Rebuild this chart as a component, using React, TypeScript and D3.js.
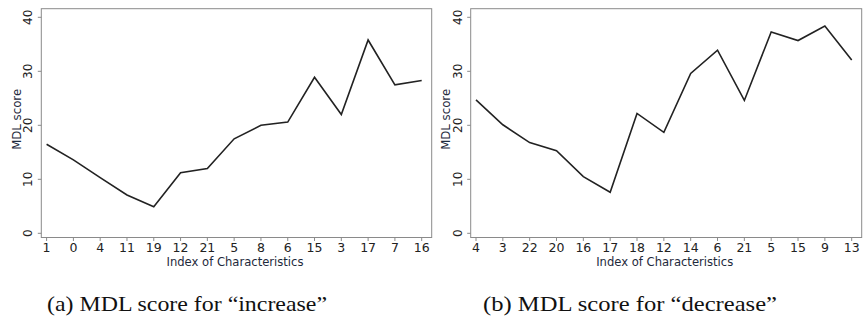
import React from "react";
import * as d3 from "d3";

const incCategories = ["1", "0", "4", "11", "19", "12", "21", "5", "8", "6", "15", "3", "17", "7", "16"];
const incValues = [16.5, 13.6, 10.3, 7.1, 4.9, 11.2, 12.0, 17.5, 20.0, 20.6, 28.9, 22.0, 35.8, 27.5, 28.3];

const decCategories = ["4", "3", "22", "20", "16", "17", "18", "12", "14", "6", "21", "5", "15", "9", "13"];
const decValues = [24.7, 20.1, 16.8, 15.3, 10.5, 7.6, 22.2, 18.7, 29.6, 33.9, 24.6, 37.3, 35.7, 38.4, 32.1];

const yTicks = [0, 10, 20, 30, 40];
const xTitle = "Index of Characteristics";
const yTitle = "MDL score";
const captions = ["(a) MDL score for \u201Cincrease\u201D", "(b) MDL score for \u201Cdecrease\u201D"];

const W = 865;
const H = 326;
const TICK_FONT = "'DejaVu Sans', Verdana, sans-serif";
const AXIS_COLOR = "#8a8a8a";
const TEXT_COLOR = "#222";
const TITLE_COLOR = "#1e2a3c";

type PanelProps = {
  left: number;
  right: number;
  categories: string[];
  values: number[];
  caption: string;
  captionX: number;
  captionW: number;
};

function Panel({ left, right, categories, values, caption, captionX, captionW }: PanelProps) {
  const top = 8.7;
  const bottom = 237.5;
  const y = d3.scaleLinear().domain([0, 40]).range([233.3, 17.3]);
  const keys = categories.map((c, i) => i + ":" + c);
  const x = d3.scalePoint<string>().domain(keys).range([left + 5.3, right - 10]);
  const line = d3
    .line<number>()
    .x((_, i) => x(keys[i]) as number)
    .y((v) => y(v));
  const d = line(values) || "";
  return (
    <g>
      <rect x={left} y={top} width={right - left} height={bottom - top} fill="none" stroke={AXIS_COLOR} strokeWidth={1} />
      {yTicks.map((t) => (
        <g key={"y" + t}>
          <line x1={left - 3.5} x2={left} y1={y(t)} y2={y(t)} stroke={AXIS_COLOR} strokeWidth={1} />
          <text
            transform={`translate(${left - 9},${y(t)}) rotate(-90)`}
            textAnchor="middle"
            fontFamily={TICK_FONT}
            fontSize={12}
            fill={TEXT_COLOR}
          >
            {t}
          </text>
        </g>
      ))}
      {keys.map((k, i) => (
        <g key={"x" + k}>
          <line x1={x(k)} x2={x(k)} y1={bottom} y2={bottom + 3.5} stroke={AXIS_COLOR} strokeWidth={1} />
          <text x={x(k)} y={bottom + 14.5} textAnchor="middle" fontFamily={TICK_FONT} fontSize={12.5} fill={TEXT_COLOR}>
            {categories[i]}
          </text>
        </g>
      ))}
      <text
        x={(left + right) / 2 - 1.5}
        y={bottom + 28}
        textAnchor="middle"
        fontFamily={TICK_FONT}
        fontSize={12.5}
        fill={TITLE_COLOR}
        textLength={137}
        lengthAdjust="spacingAndGlyphs"
      >
        {xTitle}
      </text>
      <text
        transform={`translate(${left - 20.5},${y(21.1)}) rotate(-90)`}
        textAnchor="middle"
        fontFamily={TICK_FONT}
        fontSize={12.5}
        fill={TITLE_COLOR}
        textLength={61}
        lengthAdjust="spacingAndGlyphs"
      >
        {yTitle}
      </text>
      <path d={d} fill="none" stroke="#222" strokeWidth={1.6} strokeLinejoin="miter" />
      <text
        x={captionX}
        y={311}
        fontFamily="'Liberation Serif', 'Times New Roman', serif"
        fontSize={22}
        fill="#111"
        textLength={captionW}
        lengthAdjust="spacingAndGlyphs"
      >
        {caption}
      </text>
    </g>
  );
}

export default function App() {
  return (
    <svg width={W} height={H} viewBox={`0 0 ${W} ${H}`} style={{ display: "block", position: "absolute", left: 0, top: 0, background: "#fff" }}>
      <rect x={0} y={0} width={W} height={H} fill="#fff" />
      <Panel left={41.3} right={431.7} categories={incCategories} values={incValues} caption={captions[0]} captionX={47} captionW={280} />
      <Panel left={470.7} right={861.7} categories={decCategories} values={decValues} caption={captions[1]} captionX={483} captionW={294} />
    </svg>
  );
}
